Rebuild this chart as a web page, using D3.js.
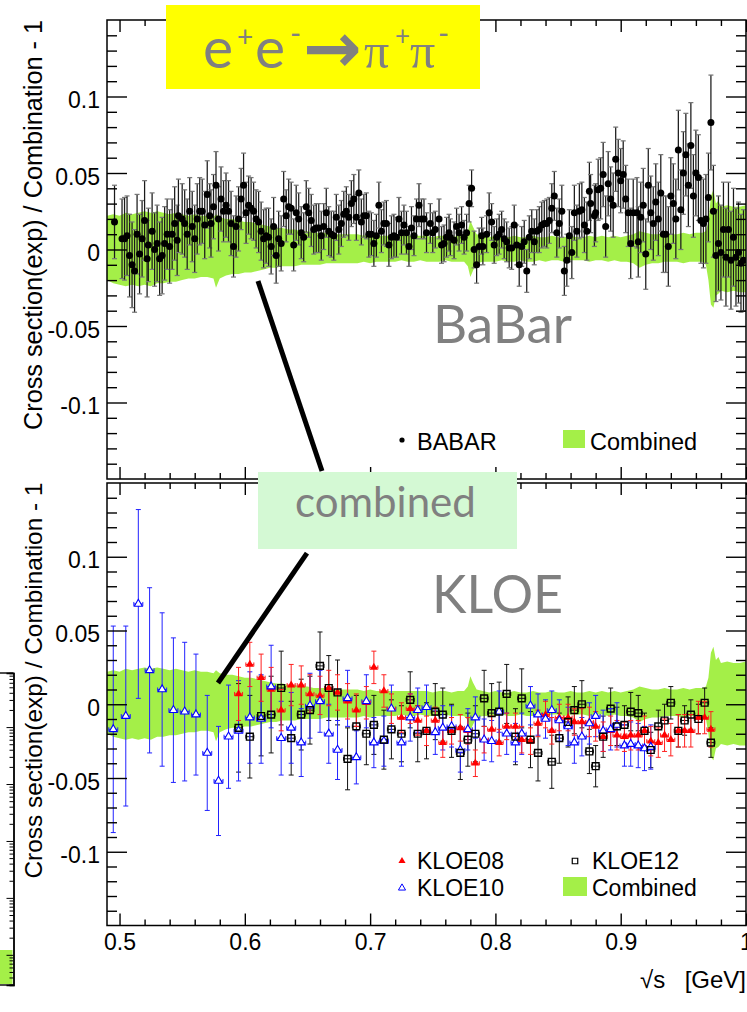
<!DOCTYPE html>
<html>
<head>
<meta charset="utf-8">
<title>e+e- -> pi+pi- : BaBar and KLOE vs combination</title>
<script src="https://cdn.jsdelivr.net/npm/d3@7"></script>
<style>
  body { margin: 0; background: #fff; }
  svg { display: block; font-family: "Liberation Sans", Arial, Helvetica, sans-serif; }
</style>
</head>
<body>
<svg id="chart" width="747" height="1012"></svg>
<script>
// ---------------- data ----------------
const xTickValues = [0.5, 0.6, 0.7, 0.8, 0.9, 1.0];
const xTickLabels = ["0.5", "0.6", "0.7", "0.8", "0.9", "1"];
const yTickValues = [-0.1, -0.05, 0, 0.05, 0.1];
const yTickLabels = ["-0.1", "-0.05", "0", "0.05", "0.1"];

// combined uncertainty band (relative)
const bandX = [
  0.490,0.495,0.500,0.505,0.510,0.515,0.520,0.525,0.530,0.535,
  0.540,0.545,0.550,0.555,0.560,0.565,0.570,0.575,0.577,0.580,
  0.585,0.590,0.595,0.600,0.605,0.610,0.615,0.620,0.625,0.630,
  0.635,0.640,0.645,0.650,0.655,0.660,0.665,0.670,0.675,0.680,
  0.685,0.690,0.695,0.700,0.705,0.710,0.715,0.720,0.725,0.730,
  0.735,0.740,0.745,0.750,0.755,0.760,0.765,0.770,0.775,0.778,
  0.780,0.782,0.785,0.790,0.795,0.800,0.805,0.810,0.815,0.820,
  0.825,0.830,0.835,0.840,0.845,0.850,0.855,0.860,0.865,0.870,
  0.875,0.880,0.885,0.890,0.895,0.900,0.905,0.910,0.915,0.920,
  0.925,0.930,0.935,0.940,0.945,0.950,0.955,0.960,0.965,0.968,
  0.970,0.972,0.974,0.976,0.978,0.980,0.985,0.990,0.995,1.000];
const bandHi = [
  0.022,0.023,0.022,0.024,0.023,0.024,0.025,0.024,0.025,0.024,
  0.023,0.024,0.023,0.022,0.023,0.022,0.022,0.021,0.023,0.021,
  0.020,0.020,0.019,0.018,0.018,0.017,0.016,0.015,0.014,0.014,
  0.013,0.013,0.012,0.012,0.011,0.011,0.011,0.010,0.010,0.010,
  0.010,0.010,0.009,0.010,0.009,0.009,0.009,0.009,0.009,0.009,
  0.009,0.009,0.009,0.008,0.009,0.009,0.008,0.009,0.009,0.012,
  0.019,0.015,0.010,0.009,0.008,0.009,0.008,0.008,0.009,0.008,
  0.008,0.009,0.008,0.008,0.009,0.008,0.008,0.009,0.008,0.008,
  0.009,0.008,0.009,0.008,0.009,0.008,0.009,0.010,0.012,0.011,
  0.010,0.010,0.011,0.010,0.010,0.011,0.010,0.011,0.011,0.012,
  0.018,0.035,0.039,0.030,0.032,0.028,0.029,0.028,0.028,0.029];
const bandLo = [
  -0.020,-0.022,-0.023,-0.024,-0.023,-0.024,-0.023,-0.024,-0.022,-0.022,
  -0.021,-0.021,-0.020,-0.019,-0.019,-0.018,-0.018,-0.019,-0.025,-0.019,
  -0.017,-0.016,-0.016,-0.015,-0.015,-0.014,-0.013,-0.012,-0.012,-0.011,
  -0.011,-0.011,-0.010,-0.010,-0.010,-0.010,-0.009,-0.009,-0.009,-0.009,
  -0.009,-0.009,-0.008,-0.009,-0.008,-0.008,-0.008,-0.008,-0.007,-0.008,
  -0.008,-0.007,-0.008,-0.008,-0.008,-0.007,-0.008,-0.008,-0.008,-0.011,
  -0.018,-0.014,-0.009,-0.008,-0.008,-0.008,-0.007,-0.008,-0.008,-0.007,
  -0.008,-0.008,-0.007,-0.008,-0.007,-0.007,-0.008,-0.007,-0.007,-0.007,
  -0.008,-0.007,-0.007,-0.008,-0.007,-0.008,-0.008,-0.009,-0.012,-0.010,
  -0.009,-0.009,-0.008,-0.008,-0.008,-0.009,-0.008,-0.008,-0.008,-0.010,
  -0.020,-0.036,-0.038,-0.030,-0.029,-0.027,-0.028,-0.027,-0.028,-0.028];

// BABAR
const babarX = [
  0.496,0.502,0.504,0.506,0.508,0.510,0.512,0.514,0.516,0.518,
  0.520,0.522,0.523,0.526,0.528,0.530,0.532,0.534,0.536,0.538,
  0.540,0.542,0.544,0.546,0.547,0.550,0.552,0.554,0.556,0.558,
  0.560,0.562,0.564,0.566,0.568,0.570,0.572,0.573,0.575,0.577,
  0.579,0.581,0.583,0.585,0.587,0.589,0.591,0.593,0.595,0.597,
  0.599,0.601,0.603,0.605,0.607,0.609,0.611,0.613,0.615,0.617,
  0.619,0.621,0.623,0.625,0.627,0.629,0.631,0.633,0.635,0.637,
  0.639,0.641,0.643,0.645,0.647,0.649,0.651,0.653,0.655,0.657,
  0.659,0.661,0.663,0.665,0.667,0.669,0.671,0.673,0.675,0.677,
  0.679,0.681,0.683,0.685,0.687,0.689,0.691,0.693,0.695,0.697,
  0.699,0.701,0.703,0.705,0.707,0.709,0.711,0.713,0.715,0.717,
  0.719,0.721,0.723,0.725,0.727,0.729,0.731,0.733,0.735,0.737,
  0.739,0.741,0.743,0.745,0.748,0.750,0.752,0.755,0.757,0.759,
  0.761,0.763,0.764,0.767,0.769,0.771,0.773,0.775,0.777,0.779,
  0.781,0.783,0.785,0.787,0.789,0.790,0.793,0.795,0.797,0.799,
  0.801,0.803,0.805,0.807,0.809,0.811,0.813,0.815,0.817,0.819,
  0.821,0.823,0.825,0.827,0.829,0.831,0.833,0.835,0.837,0.839,
  0.841,0.843,0.845,0.847,0.849,0.851,0.853,0.855,0.857,0.859,
  0.861,0.863,0.865,0.867,0.869,0.871,0.873,0.875,0.876,0.879,
  0.880,0.882,0.884,0.886,0.888,0.890,0.892,0.894,0.896,0.898,
  0.900,0.902,0.904,0.906,0.908,0.910,0.913,0.914,0.916,0.918,
  0.920,0.922,0.924,0.926,0.928,0.930,0.932,0.934,0.936,0.938,
  0.940,0.942,0.944,0.946,0.948,0.950,0.952,0.954,0.956,0.958,
  0.960,0.962,0.964,0.966,0.968,0.970,0.972,0.974,0.976,0.978,
  0.980,0.982,0.984,0.986,0.988,0.990,0.992,0.994,0.996,0.998];
const babarY = [
  0.018,0.007,0.007,0.009,-0.004,-0.010,-0.014,0.010,-0.003,0.007,
  0.019,-0.006,0.003,0.012,0.000,0.004,-0.006,-0.004,0.004,0.010,
  0.002,0.010,0.017,0.006,0.022,0.020,0.017,0.010,0.025,0.015,
  0.007,0.020,0.025,0.025,0.016,0.036,0.022,0.017,0.028,0.042,
  0.020,0.033,0.025,0.029,0.025,0.017,0.002,0.015,0.020,0.033,
  0.042,0.024,0.029,0.027,0.025,0.020,0.018,0.012,0.007,0.009,
  0.008,0.002,0.015,-0.004,0.007,0.004,0.033,0.022,0.028,0.027,
  0.003,0.024,0.020,0.011,0.008,0.028,0.024,0.019,0.013,0.014,
  0.014,0.009,0.015,0.024,0.012,0.010,0.009,0.021,0.013,0.017,
  0.023,0.025,0.021,0.030,0.033,0.021,0.037,0.018,0.022,0.022,
  0.010,0.010,0.004,0.009,0.029,0.012,0.017,0.017,0.003,0.008,
  0.009,0.008,0.020,0.011,0.016,0.011,0.002,0.014,0.009,0.020,
  0.029,0.020,0.020,0.011,0.017,0.011,0.013,0.020,0.003,0.004,
  0.008,0.011,0.008,0.006,0.015,0.011,0.016,0.008,0.011,0.030,
  0.040,0.000,-0.010,0.002,0.009,0.002,0.010,0.024,0.018,0.003,
  0.008,0.010,0.013,0.007,0.005,0.001,0.001,0.016,0.003,-0.010,
  0.002,0.005,-0.014,0.008,0.012,0.005,0.012,0.013,0.016,0.017,
  0.017,0.019,0.027,0.035,0.011,0.017,0.025,-0.014,-0.007,0.009,
  -0.002,0.024,0.012,0.025,0.026,0.016,0.012,0.038,0.030,0.022,
  0.024,0.039,0.040,0.049,0.015,0.043,0.033,0.029,0.059,0.050,
  0.045,0.049,0.033,0.024,0.004,0.024,0.024,0.005,0.021,0.029,
  -0.003,0.042,0.024,0.017,0.031,0.020,0.037,0.010,0.010,0.002,
  0.035,0.030,0.020,0.065,0.026,0.050,0.062,0.042,0.068,0.035,
  0.050,0.047,0.019,0.017,0.020,0.034,0.083,0.025,-0.004,0.004,
  -0.002,0.013,-0.005,0.013,-0.007,0.008,-0.005,-0.002,-0.009,-0.007];
const babarErr = [
  0.024,0.026,0.027,0.026,0.027,0.028,0.027,0.026,0.026,0.025,
  0.026,0.025,0.024,0.025,0.024,0.025,0.024,0.025,0.024,0.023,
  0.024,0.023,0.024,0.023,0.024,0.023,0.022,0.023,0.022,0.023,
  0.022,0.023,0.022,0.021,0.022,0.022,0.021,0.022,0.021,0.022,
  0.021,0.021,0.020,0.021,0.020,0.021,0.020,0.020,0.021,0.020,
  0.021,0.020,0.019,0.020,0.019,0.019,0.020,0.019,0.019,0.018,
  0.019,0.018,0.019,0.018,0.018,0.018,0.018,0.017,0.018,0.017,
  0.017,0.018,0.017,0.017,0.016,0.017,0.016,0.017,0.016,0.016,
  0.016,0.016,0.015,0.016,0.016,0.015,0.016,0.015,0.016,0.015,
  0.015,0.016,0.015,0.015,0.016,0.015,0.015,0.015,0.014,0.015,
  0.015,0.014,0.015,0.014,0.015,0.014,0.014,0.015,0.014,0.014,
  0.014,0.013,0.014,0.014,0.013,0.014,0.013,0.014,0.013,0.013,
  0.014,0.013,0.013,0.013,0.013,0.013,0.012,0.013,0.012,0.012,
  0.013,0.012,0.012,0.012,0.012,0.012,0.012,0.011,0.012,0.012,
  0.012,0.012,0.012,0.012,0.012,0.012,0.012,0.013,0.012,0.012,
  0.012,0.013,0.012,0.013,0.013,0.013,0.014,0.013,0.013,0.014,
  0.013,0.014,0.014,0.014,0.014,0.015,0.014,0.015,0.015,0.015,
  0.016,0.015,0.016,0.016,0.016,0.016,0.017,0.016,0.017,0.017,
  0.017,0.018,0.017,0.018,0.018,0.018,0.019,0.019,0.019,0.020,
  0.019,0.020,0.020,0.021,0.020,0.021,0.021,0.021,0.021,0.022,
  0.021,0.022,0.022,0.022,0.023,0.022,0.023,0.023,0.023,0.024,
  0.023,0.024,0.024,0.024,0.025,0.024,0.025,0.025,0.025,0.026,
  0.025,0.026,0.026,0.026,0.026,0.027,0.027,0.027,0.028,0.027,
  0.028,0.028,0.028,0.029,0.029,0.029,0.031,0.030,0.030,0.031,
  0.031,0.031,0.032,0.031,0.032,0.032,0.032,0.033,0.032,0.033];

// KLOE10
const kloe10X = [
  0.495,0.505,0.515,0.524,0.534,0.543,0.552,0.561,0.570,0.579,
  0.587,0.595,0.604,0.613,0.621,0.629,0.637,0.645,0.652,0.660,
  0.667,0.674,0.682,0.689,0.697,0.703,0.711,0.717,0.725,0.732,
  0.738,0.745,0.752,0.758,0.765,0.772,0.778,0.784,0.791,0.797,
  0.803,0.809,0.816,0.821,0.828,0.834,0.840,0.845,0.851,0.858,
  0.863,0.869,0.875,0.880,0.886,0.892,0.897,0.903,0.908,0.914,
  0.919,0.924];
const kloe10Y = [
  -0.017,-0.008,0.068,0.023,0.010,-0.004,-0.005,-0.007,-0.033,-0.052,
  -0.022,-0.018,-0.009,-0.010,0.012,-0.023,-0.016,-0.026,-0.001,0.002,
  -0.020,-0.031,0.004,-0.036,0.002,-0.026,-0.025,-0.003,-0.026,-0.009,
  -0.004,-0.002,-0.019,-0.016,-0.015,-0.031,-0.017,-0.009,-0.024,-0.025,
  -0.005,-0.020,-0.026,-0.020,-0.001,-0.007,-0.010,-0.004,-0.011,-0.015,
  -0.026,-0.022,-0.013,-0.008,-0.018,-0.017,-0.014,-0.028,-0.027,-0.028,
  -0.030,-0.029];
const kloe10Err = [
  0.070,0.061,0.064,0.056,0.052,0.049,0.047,0.041,0.039,0.037,
  0.035,0.034,0.031,0.030,0.028,0.025,0.024,0.023,0.022,0.021,
  0.020,0.020,0.019,0.018,0.018,0.017,0.017,0.016,0.016,0.016,
  0.015,0.015,0.015,0.015,0.014,0.015,0.014,0.014,0.014,0.014,
  0.014,0.014,0.013,0.014,0.013,0.014,0.013,0.013,0.014,0.013,
  0.014,0.013,0.014,0.014,0.014,0.014,0.015,0.014,0.015,0.015,
  0.015,0.015];

// KLOE08
const kloe08X = [
  0.595,0.604,0.613,0.621,0.629,0.637,0.645,0.652,0.660,0.667,
  0.674,0.682,0.689,0.697,0.703,0.711,0.717,0.725,0.732,0.738,
  0.745,0.752,0.758,0.765,0.772,0.778,0.784,0.791,0.797,0.803,
  0.809,0.816,0.821,0.828,0.834,0.840,0.845,0.851,0.858,0.863,
  0.869,0.875,0.880,0.886,0.892,0.897,0.903,0.908,0.914,0.919,
  0.924,0.930,0.935,0.940,0.946,0.951,0.956,0.962,0.967,0.972];
const kloe08Y = [
  0.007,0.027,0.018,0.010,-0.004,0.013,0.013,0.007,0.006,0.011,
  0.008,0.002,-0.004,0.001,0.025,0.009,-0.003,-0.009,-0.003,-0.011,
  -0.018,-0.011,-0.026,-0.018,-0.016,-0.018,-0.040,-0.024,-0.017,-0.026,
  -0.015,-0.015,-0.024,-0.025,-0.013,-0.007,-0.018,-0.009,-0.009,-0.012,
  -0.012,-0.012,-0.015,-0.022,-0.018,-0.021,-0.022,-0.021,-0.021,-0.018,
  -0.025,-0.026,-0.021,-0.024,-0.018,-0.018,-0.018,-0.009,-0.009,-0.017];
const kloe08Err = [
  0.018,0.015,0.016,0.015,0.014,0.014,0.013,0.013,0.013,0.012,
  0.012,0.012,0.011,0.011,0.011,0.011,0.010,0.010,0.010,0.010,
  0.010,0.009,0.010,0.009,0.009,0.009,0.009,0.009,0.009,0.009,
  0.009,0.009,0.009,0.009,0.009,0.009,0.009,0.009,0.009,0.009,
  0.009,0.010,0.010,0.010,0.010,0.010,0.010,0.010,0.010,0.010,
  0.010,0.010,0.011,0.011,0.011,0.011,0.011,0.011,0.011,0.012];

// KLOE12
const kloe12X = [
  0.595,0.604,0.613,0.621,0.629,0.637,0.645,0.652,0.660,0.667,
  0.674,0.682,0.689,0.697,0.703,0.711,0.717,0.725,0.732,0.738,
  0.745,0.752,0.758,0.765,0.772,0.778,0.784,0.791,0.797,0.803,
  0.809,0.816,0.821,0.828,0.834,
  0.845,0.851,0.858,0.863,0.869,0.875,0.880,0.886,0.892,0.897,
  0.903,0.908,0.914,0.919,0.924,0.930,0.935,0.940,0.946,0.951,
  0.956,0.962,0.967,0.972];
const kloe12Y = [
  -0.016,-0.022,-0.008,-0.007,0.011,-0.023,-0.007,-0.004,0.026,0.011,
  0.008,-0.037,-0.015,-0.020,-0.014,-0.024,-0.017,-0.020,0.003,-0.020,
  -0.018,-0.005,-0.007,-0.018,-0.033,-0.024,-0.020,0.004,-0.006,-0.005,
  0.007,-0.022,0.004,-0.024,-0.033,
  -0.039,-0.023,-0.012,-0.004,0.000,-0.032,-0.042,-0.022,-0.003,-0.015,
  -0.014,-0.005,-0.006,-0.018,-0.031,-0.015,-0.011,0.001,-0.018,-0.011,
  -0.007,-0.010,0.001,-0.026];
const kloe12Err = [
  0.030,0.028,0.027,0.026,0.025,0.025,0.024,0.023,0.023,0.022,
  0.022,0.021,0.021,0.021,0.020,0.020,0.020,0.019,0.019,0.019,
  0.019,0.019,0.018,0.018,0.018,0.018,0.019,0.019,0.020,0.020,
  0.020,0.019,0.020,0.019,0.019,
  0.018,0.017,0.017,0.016,0.016,0.015,0.014,0.014,0.014,0.013,
  0.013,0.013,0.012,0.012,0.012,0.011,0.011,0.011,0.011,0.010,
  0.010,0.010,0.010,0.010];

// ---------------- layout ----------------
const svg = d3.select("#chart");
const GREEN = "#a4ef48";
const GREY_TXT = "#808080";
const LEFT = 107, RIGHT = 746;

const x = d3.scaleLinear().domain([0.49, 1.0]).range([LEFT, RIGHT]);
const yTop = d3.scaleLinear().domain([-0.15, 0.15]).range([479, 20]);
const yBot = d3.scaleLinear().domain([-0.15, 0.15]).range([925.5, 483]);

const band = bandX.map((v, i) => ({x: v, hi: bandHi[i], lo: bandLo[i]}));
const zip = (xs, ys, es) => xs.map((v, i) => ({x: v, y: ys[i], e: es[i]}));
const babar = zip(babarX, babarY, babarErr);
const kloe08 = zip(kloe08X, kloe08Y, kloe08Err);
const kloe10 = zip(kloe10X, kloe10Y, kloe10Err);
const kloe12 = zip(kloe12X, kloe12Y, kloe12Err);

function panel(y, id) {
  const [b, t] = y.range();
  svg.append("clipPath").attr("id", id)
    .append("rect").attr("x", LEFT).attr("y", t).attr("width", RIGHT - LEFT).attr("height", b - t);
  const g = svg.append("g").attr("clip-path", `url(#${id})`);
  g.append("path").datum(band)
    .attr("fill", GREEN)
    .attr("d", d3.area().x(d => x(d.x)).y0(d => y(d.lo)).y1(d => y(d.hi)));
  return g;
}

function errorBars(g, data, y, color, cap, opts) {
  opts = opts || {};
  const sel = g.append("g").attr("stroke", color).attr("stroke-width", opts.w || 1).attr("fill", "none");
  data.forEach(d => {
    const cx = x(d.x), y1 = y(d.y + d.e), y2 = y(d.y - d.e);
    sel.append("line").attr("x1", cx).attr("x2", cx).attr("y1", y1).attr("y2", y2);
    sel.append("line").attr("x1", cx - cap).attr("x2", cx + cap).attr("y1", y1).attr("y2", y1)
      .attr("stroke", opts.capColor || color);
    sel.append("line").attr("x1", cx - cap).attr("x2", cx + cap).attr("y1", y2).attr("y2", y2)
      .attr("stroke", opts.capColor || color);
    if (opts.xbar) {
      const cy = y(d.y);
      sel.append("line").attr("x1", cx - opts.xbar).attr("x2", cx + opts.xbar).attr("y1", cy).attr("y2", cy);
      sel.append("line").attr("x1", cx - opts.xbar).attr("x2", cx - opts.xbar).attr("y1", cy - 2).attr("y2", cy + 2);
      sel.append("line").attr("x1", cx + opts.xbar).attr("x2", cx + opts.xbar).attr("y1", cy - 2).attr("y2", cy + 2);
    }
  });
}

function axes(y, showLabels) {
  const [b, t] = y.range();
  const g = svg.append("g");
  const xMinor = d3.range(0.50, 1.001, 0.02).filter(v => Math.abs(v * 10 - Math.round(v * 10)) > 1e-6);
  const yMinor = d3.range(-0.14, 0.141, 0.01).filter(v => Math.abs(v * 20 - Math.round(v * 20)) > 1e-6);
  const noLab = () => "";

  g.append("g").attr("transform", `translate(0,${b})`)
    .call(d3.axisBottom(x).tickValues(xTickValues).tickSize(-12).tickPadding(8)
      .tickFormat((d, i) => showLabels ? xTickLabels[i] : ""));
  g.append("g").attr("transform", `translate(0,${b})`)
    .call(d3.axisBottom(x).tickValues(xMinor).tickSize(-6).tickFormat(noLab));
  g.append("g").attr("transform", `translate(0,${t})`)
    .call(d3.axisTop(x).tickValues(xTickValues).tickSize(-12).tickFormat(noLab));
  g.append("g").attr("transform", `translate(0,${t})`)
    .call(d3.axisTop(x).tickValues(xMinor).tickSize(-6).tickFormat(noLab));

  g.append("g").attr("transform", `translate(${LEFT},0)`)
    .call(d3.axisLeft(y).tickValues(yTickValues).tickSize(-20).tickPadding(7)
      .tickFormat((d, i) => yTickLabels[i]));
  g.append("g").attr("transform", `translate(${LEFT},0)`)
    .call(d3.axisLeft(y).tickValues(yMinor).tickSize(-10).tickFormat(noLab));
  g.append("g").attr("transform", `translate(${RIGHT},0)`)
    .call(d3.axisRight(y).tickValues(yTickValues).tickSize(-20).tickFormat(noLab));
  g.append("g").attr("transform", `translate(${RIGHT},0)`)
    .call(d3.axisRight(y).tickValues(yMinor).tickSize(-10).tickFormat(noLab));

  g.selectAll(".domain").remove();
  g.selectAll(".tick line").attr("stroke", "#000").attr("stroke-width", 1.4);
  g.selectAll(".tick text").attr("fill", "#000")
    .style("font-family", "'Liberation Sans', Arial, sans-serif").style("font-size", "23px");
  g.selectAll("g.tick text").filter(function () { return this.getAttribute("dy") === "0.32em"; })
    .attr("dy", "0.48em");

  g.append("rect").attr("x", LEFT).attr("y", t).attr("width", RIGHT - LEFT).attr("height", b - t)
    .attr("fill", "none").attr("stroke", "#000").attr("stroke-width", 1.5);
}

// ---- top panel: BABAR ----
const gTop = panel(yTop, "clipTop");
errorBars(gTop, babar, yTop, "#1a1a1a", 2.5, {capColor: "#777", w: 1.25});
gTop.append("g").selectAll("circle").data(babar).join("circle")
  .attr("cx", d => x(d.x)).attr("cy", d => yTop(d.y)).attr("r", 3.5).attr("fill", "#000");
axes(yTop, false);

// ---- bottom panel: KLOE ----
const gBot = panel(yBot, "clipBot");
errorBars(gBot, kloe12, yBot, "#111", 2.5, {xbar: 4});
errorBars(gBot, kloe10, yBot, "#2222ff", 2.5, {xbar: 4.5});
errorBars(gBot, kloe08, yBot, "#ff2020", 2.5, {xbar: 4});
const tri = d3.symbol().type(d3.symbolTriangle).size(28);
const sq = d3.symbol().type(d3.symbolSquare).size(46);
gBot.append("g").selectAll("path").data(kloe08).join("path")
  .attr("transform", d => `translate(${x(d.x)},${yBot(d.y)})`).attr("d", tri).attr("fill", "#ff0000");
gBot.append("g").selectAll("path").data(kloe10).join("path")
  .attr("transform", d => `translate(${x(d.x)},${yBot(d.y)})`).attr("d", tri)
  .attr("fill", "#fff").attr("stroke", "#0000ff").attr("stroke-width", 1.1);
gBot.append("g").selectAll("path").data(kloe12).join("path")
  .attr("transform", d => `translate(${x(d.x)},${yBot(d.y)})`).attr("d", sq)
  .attr("fill", "none").attr("stroke", "#000").attr("stroke-width", 1.4);
axes(yBot, true);

// ---- axis titles ----
svg.append("text").attr("transform", "translate(41.5,225) rotate(-90)")
  .attr("text-anchor", "middle").attr("textLength", 410).attr("lengthAdjust", "spacingAndGlyphs")
  .style("font-size", "25px").text("Cross section(exp) / Combination - 1");
svg.append("text").attr("transform", "translate(41.5,680.5) rotate(-90)")
  .attr("text-anchor", "middle").attr("textLength", 396).attr("lengthAdjust", "spacingAndGlyphs")
  .style("font-size", "24.5px").text("Cross section(exp) / Combination - 1");
const xt = svg.append("text").attr("y", 988).style("font-size", "24px");
xt.append("tspan").attr("x", 640).text("\u221As");
xt.append("tspan").attr("x", 746).attr("text-anchor", "end").text("[GeV]");

// ---- legends ----
svg.append("circle").attr("cx", 402).attr("cy", 440).attr("r", 2.6).attr("fill", "#000");
svg.append("text").attr("x", 417).attr("y", 450).style("font-size", "23.5px").text("BABAR");
svg.append("rect").attr("x", 563).attr("y", 430).attr("width", 22).attr("height", 18).attr("fill", GREEN);
svg.append("text").attr("x", 590).attr("y", 450).style("font-size", "23.5px").text("Combined");

const legTri = d3.symbol().type(d3.symbolTriangle).size(22);
svg.append("path").attr("transform", "translate(402,861)").attr("d", legTri).attr("fill", "#ff0000");
svg.append("text").attr("x", 417).attr("y", 869).style("font-size", "23px").text("KLOE08");
svg.append("path").attr("transform", "translate(402,888)").attr("d", legTri)
  .attr("fill", "none").attr("stroke", "#0000ff").attr("stroke-width", 1);
svg.append("text").attr("x", 417).attr("y", 896).style("font-size", "23px").text("KLOE10");
svg.append("path").attr("transform", "translate(575,861)").attr("d", d3.symbol().type(d3.symbolSquare).size(30))
  .attr("fill", "none").attr("stroke", "#000").attr("stroke-width", 1.2);
svg.append("text").attr("x", 592).attr("y", 869).style("font-size", "23px").text("KLOE12");
svg.append("rect").attr("x", 563).attr("y", 877).attr("width", 24).attr("height", 19).attr("fill", GREEN);
svg.append("text").attr("x", 592).attr("y", 896).style("font-size", "23px").text("Combined");

// ---- neighbouring plot fragment at the left edge ----
const yLog = d3.scaleLog().domain([Math.pow(10, -0.53), Math.pow(10, 4.95)]).range([985, 673]);
const frag = svg.append("g");
frag.append("rect").attr("x", 0).attr("y", 950).attr("width", 12.5).attr("height", 34).attr("fill", GREEN);
const logMajor = [1, 10, 100, 1000, 10000];
const logMinor = yLog.ticks().filter(v => !logMajor.includes(v));
frag.append("g").attr("transform", "translate(13.5,0)")
  .call(d3.axisLeft(yLog).tickValues(logMajor).tickSize(7).tickFormat(() => ""));
frag.append("g").attr("transform", "translate(13.5,0)")
  .call(d3.axisLeft(yLog).tickValues(logMinor).tickSize(4).tickFormat(() => ""));
frag.selectAll(".domain").attr("stroke", "#000").attr("stroke-width", 1.4);
frag.selectAll(".tick line").attr("stroke", "#000").attr("stroke-width", 1);
frag.append("line").attr("x1", 0).attr("x2", 13.5).attr("y1", 673).attr("y2", 673).attr("stroke", "#000").attr("stroke-width", 1.4);
frag.append("line").attr("x1", 0).attr("x2", 13.5).attr("y1", 985).attr("y2", 985).attr("stroke", "#000").attr("stroke-width", 1.4);

// ---- annotations ----
const pointer1 = [[0.6105, -0.0206], [0.6616, -0.1448]];   // top panel coords
const pointer2 = [[0.6496, 0.1025], [0.5786, 0.0144]];     // bottom panel coords
svg.append("line")
  .attr("x1", x(pointer1[0][0])).attr("y1", yTop(pointer1[0][1]))
  .attr("x2", x(pointer1[1][0])).attr("y2", yTop(pointer1[1][1]))
  .attr("stroke", "#000").attr("stroke-width", 5);
svg.append("line")
  .attr("x1", x(pointer2[0][0])).attr("y1", yBot(pointer2[0][1]))
  .attr("x2", x(pointer2[1][0])).attr("y2", yBot(pointer2[1][1]))
  .attr("stroke", "#000").attr("stroke-width", 5);

svg.append("rect").attr("x", 258).attr("y", 472).attr("width", 259).attr("height", 77).attr("fill", "#d4f9d4");
svg.append("text").attr("x", 295).attr("y", 517).attr("fill", GREY_TXT)
  .style("font-family", "Lato, 'Noto Sans', sans-serif").style("font-size", "42px").text("combined");

svg.append("rect").attr("x", 166).attr("y", 5).attr("width", 314).attr("height", 84).attr("fill", "#ffff00");
const title = svg.append("text").attr("fill", GREY_TXT).style("font-family", "Lato, 'Noto Sans', sans-serif");
title.append("tspan").attr("x", 203).attr("y", 68).style("font-size", "57px").text("e");
title.append("tspan").attr("x", 237).attr("y", 47).style("font-size", "28px").text("+");
title.append("tspan").attr("x", 255).attr("y", 68).style("font-size", "57px").text("e");
title.append("tspan").attr("x", 290).attr("y", 44).style("font-size", "30px").text("-");
title.append("tspan").attr("x", 303).attr("y", 72).style("font-family", "'DejaVu Sans', sans-serif")
  .style("font-weight", "bold").style("font-size", "70px").text("\u2192");
title.append("tspan").attr("x", 364).attr("y", 68).style("font-family", "'Liberation Serif', serif")
  .style("font-size", "50px").text("\u03C0");
title.append("tspan").attr("x", 395).attr("y", 45).style("font-size", "26px").text("+");
title.append("tspan").attr("x", 410).attr("y", 68).style("font-family", "'Liberation Serif', serif")
  .style("font-size", "50px").text("\u03C0");
title.append("tspan").attr("x", 438).attr("y", 44).style("font-size", "30px").text("-");

svg.append("text").attr("x", 433).attr("y", 343).attr("fill", GREY_TXT)
  .style("font-family", "Lato, 'Noto Sans', sans-serif").style("font-size", "53px").text("BaBar");
svg.append("text").attr("x", 432).attr("y", 613).attr("fill", GREY_TXT)
  .style("font-family", "Lato, 'Noto Sans', sans-serif").style("font-size", "52px").text("KLOE");
</script>
</body>
</html>
